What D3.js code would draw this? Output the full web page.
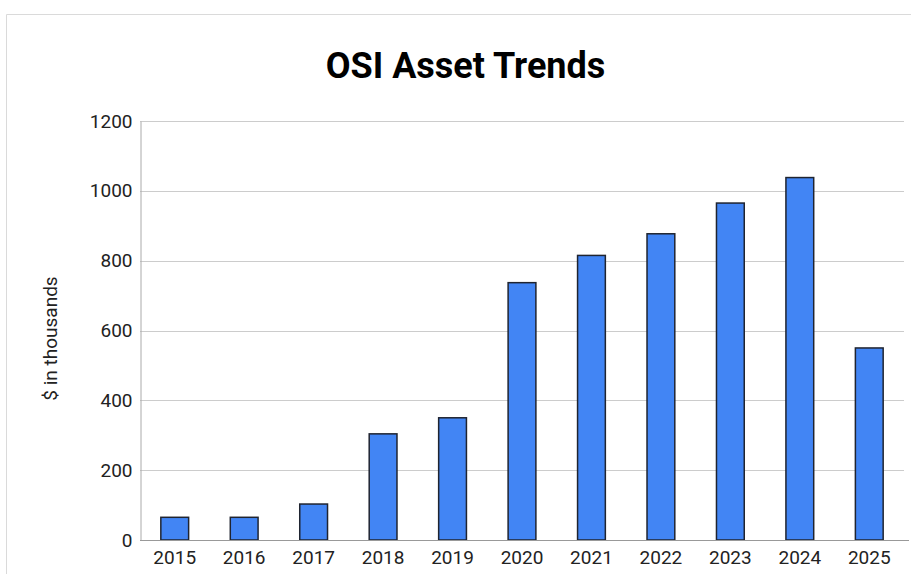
<!DOCTYPE html>
<html>
<head>
<meta charset="utf-8">
<script src="https://cdn.jsdelivr.net/npm/d3@7"></script>
<style>
  body { margin: 0; background: #fff; }
  text { font-family: Roboto, "Liberation Sans", sans-serif; }
</style>
</head>
<body>
<div id="chart"></div>
<script>
// chart data
const years = ["2015", "2016", "2017", "2018", "2019", "2020", "2021", "2022", "2023", "2024", "2025"];
const assets = [65, 65, 103, 304, 350, 737, 815, 877, 965, 1038, 550];
const yTicks = [0, 200, 400, 600, 800, 1000, 1200];

const w = 911;
const h = 574;
const svg = d3
  .select("#chart")
  .append("svg")
  .attr("width", w)
  .attr("height", h);

// frame of the card
svg
  .append("path")
  .attr("d", `M6.5,${h} V14.5 H${w}`)
  .attr("fill", "none")
  .attr("stroke", "#dadada");

const plotL = 140, plotR = 904, plotT = 121, plotB = 540;

const x = d3.scaleBand().domain(years).range([plotL, plotR]).paddingInner(0.6).paddingOuter(0.3);
const y = d3.scaleLinear().domain([0, 1200]).range([plotB, plotT]);

svg
  .append("text")
  .attr("x", 465.5)
  .attr("y", 78)
  .attr("text-anchor", "middle")
  .attr("font-size", 36)
  .attr("font-weight", "bold")
  .attr("fill", "#000")
  .text("OSI Asset Trends");

// gridlines
svg
  .selectAll("line.grid")
  .data(yTicks.filter(d => d > 0))
  .enter()
  .append("line")
  .attr("class", "grid")
  .attr("x1", plotL)
  .attr("x2", plotR)
  .attr("y1", d => Math.round(y(d)) + 0.5)
  .attr("y2", d => Math.round(y(d)) + 0.5)
  .attr("stroke", "#cccccc");

// y axis
const yAxis = svg
  .append("g")
  .attr("transform", `translate(${plotL + 0.5},0)`)
  .call(d3.axisLeft(y).tickValues(yTicks).tickFormat(d3.format("d")).tickSize(0).tickPadding(8));
yAxis.select(".domain").attr("stroke", "#aaaaaa");
yAxis.selectAll("text").attr("font-size", 19).attr("fill", "#222").attr("font-family", "Roboto, sans-serif");

svg
  .append("text")
  .attr("transform", `translate(57,${(plotT + plotB) / 2 + 8}) rotate(-90)`)
  .attr("text-anchor", "middle")
  .attr("font-size", 19)
  .attr("fill", "#222")
  .text("$ in thousands");

// bars
svg
  .selectAll("rect.bar")
  .data(years)
  .enter()
  .append("rect")
  .attr("class", "bar")
  .attr("x", d => x(d))
  .attr("y", (d, i) => y(assets[i]))
  .attr("width", x.bandwidth())
  .attr("height", (d, i) => plotB - y(assets[i]))
  .attr("fill", "#4285f4")
  .attr("stroke", "#1f2430")
  .attr("stroke-width", 1.5);

// x axis
const xAxis = svg
  .append("g")
  .attr("transform", `translate(0,${plotB + 0.5})`)
  .call(d3.axisBottom(x).tickSize(0).tickPadding(10));
xAxis.select(".domain").attr("stroke", "#999999").attr("d", `M${plotL},0H${plotR + 5}`);
xAxis.selectAll("text").attr("font-size", 19).attr("fill", "#222").attr("font-family", "Roboto, sans-serif");
</script>
</body>
</html>
